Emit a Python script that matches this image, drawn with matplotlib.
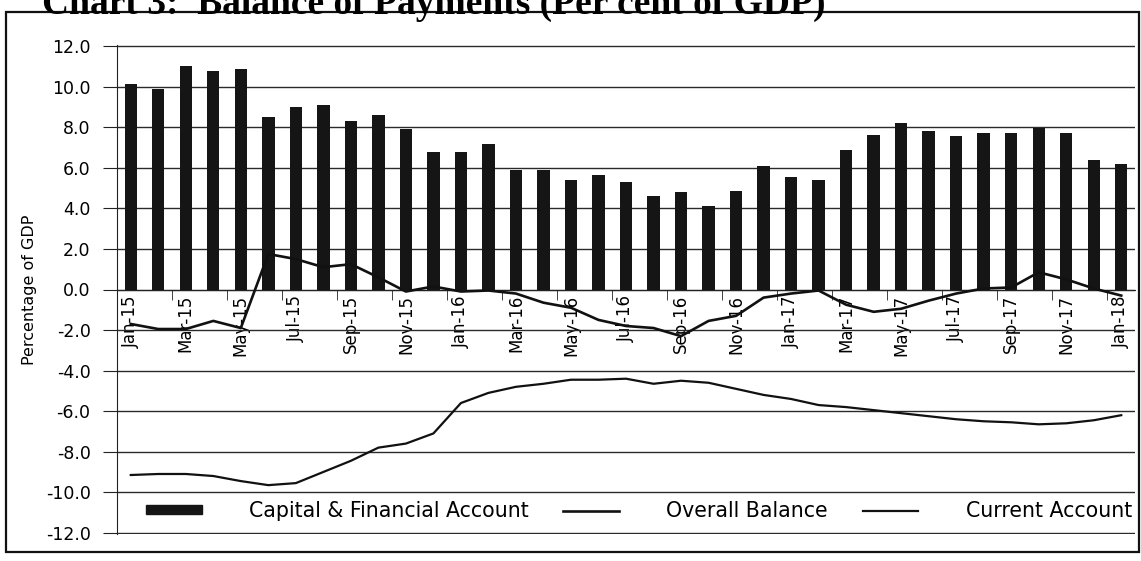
import numpy as np
import matplotlib.pyplot as plt
from matplotlib.patches import Rectangle
from matplotlib.lines import Line2D

# monthly, Jan-15 .. Jan-18
months = ['Jan-15', 'Feb-15', 'Mar-15', 'Apr-15', 'May-15', 'Jun-15', 'Jul-15', 'Aug-15',
          'Sep-15', 'Oct-15', 'Nov-15', 'Dec-15', 'Jan-16', 'Feb-16', 'Mar-16', 'Apr-16',
          'May-16', 'Jun-16', 'Jul-16', 'Aug-16', 'Sep-16', 'Oct-16', 'Nov-16', 'Dec-16',
          'Jan-17', 'Feb-17', 'Mar-17', 'Apr-17', 'May-17', 'Jun-17', 'Jul-17', 'Aug-17',
          'Sep-17', 'Oct-17', 'Nov-17', 'Dec-17', 'Jan-18']

capital_fin = [10.15, 9.9, 11.0, 10.8, 10.9, 8.5, 9.0, 9.1, 8.3, 8.6, 7.9, 6.8,
               6.8, 7.2, 5.9, 5.9, 5.4, 5.65, 5.3, 4.6, 4.8, 4.1, 4.85, 6.1,
               5.55, 5.4, 6.9, 7.6, 8.2, 7.8, 7.55, 7.7, 7.7, 7.95, 7.7, 6.4, 6.2]

overall = [-1.7, -1.95, -1.95, -1.55, -1.9, 1.75, 1.5, 1.1, 1.25, 0.6, -0.1, 0.15,
           -0.1, -0.05, -0.2, -0.65, -0.9, -1.5, -1.8, -1.9, -2.3, -1.55, -1.3, -0.4,
           -0.2, -0.05, -0.75, -1.1, -0.95, -0.55, -0.2, 0.05, 0.1, 0.85, 0.5, 0.05, -0.3]

current = [-9.15, -9.1, -9.1, -9.2, -9.45, -9.65, -9.55, -9.0, -8.45, -7.8, -7.6, -7.1,
           -5.6, -5.1, -4.8, -4.65, -4.45, -4.45, -4.4, -4.65, -4.5, -4.6, -4.9, -5.2,
           -5.4, -5.7, -5.8, -5.95, -6.1, -6.25, -6.4, -6.5, -6.55, -6.65, -6.6, -6.45, -6.2]

W, H = 1141, 561
fig = plt.figure(figsize=(W / 100, H / 100), dpi=100)
ax = fig.add_axes([117 / W, 1 - 534 / H, (1135 - 117) / W, (534 - 45) / H])

x = np.arange(len(months))
ax.bar(x, capital_fin, width=0.45, color='#151515', zorder=2, label='Capital & Financial Account')
ax.plot(x, overall, color='#111111', lw=1.9, zorder=3, label='Overall Balance')
ax.plot(x, current, color='#111111', lw=1.6, zorder=3, label='Current Account')

ax.set_xlim(-0.5, len(months) - 0.5)
ax.set_ylim(-12.06, 12.06)
ax.set_yticks(np.arange(-12, 12.1, 2))
ax.set_yticklabels(['%.1f' % v for v in np.arange(-12, 12.1, 2)], fontsize=12.5)
ax.yaxis.grid(True, color='#2a2a2a', lw=1.0, zorder=0)
ax.set_axisbelow(True)

ax.spines['top'].set_visible(False)
ax.spines['right'].set_visible(False)
ax.spines['bottom'].set_position(('data', 0))
ax.spines['bottom'].set_color('#222222')
ax.spines['left'].set_color('#222222')

ax.set_xticks(x[::2])
ax.set_xticklabels(months[::2], rotation=90, fontsize=12)
ax.set_xticks(np.arange(1.5, len(months), 2), minor=True)
ax.tick_params(axis='x', which='major', length=0, pad=4)
ax.tick_params(axis='x', which='minor', length=7, direction='out', color='#222222')
ax.tick_params(axis='y', length=10, pad=9, color='#222222')

ax.set_ylabel('Percentage of GDP', fontsize=11.5)
ax.yaxis.set_label_coords(-0.079, 0.5)

handles = [Rectangle((0, 0), 1, 1, color='#151515'),
           Line2D([], [], color='#111111', lw=1.9),
           Line2D([], [], color='#111111', lw=1.6)]
labels = ['Capital & Financial Account', 'Overall Balance', 'Current Account']
fig.legend(handles, labels, loc='center left', bbox_to_anchor=(146 / W, 1 - 511 / H),
           ncol=3, frameon=False, fontsize=14.8, handlelength=2.7, handleheight=0.3,
           handletextpad=2.3, columnspacing=1.7, borderpad=0, borderaxespad=0)

# outer frame and title cut off at the top edge
fig.patches.append(Rectangle((6 / W, 1 - 552 / H), 1133 / W, 540 / H, transform=fig.transFigure,
                             fill=False, lw=1.6, ec='#111111'))
fig.text(42 / W, 1 - 14 / H, 'Chart 3:  Balance of Payments (Per cent of GDP)',
         fontfamily='Liberation Serif', fontweight='bold', fontsize=27, va='baseline')

fig.savefig('out.png', dpi=100)
